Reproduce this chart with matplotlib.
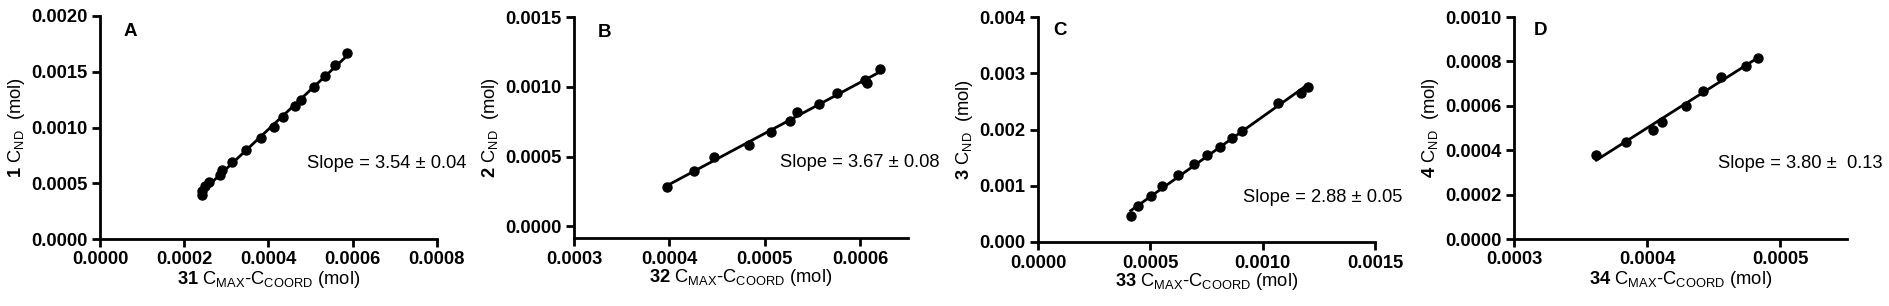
#!/usr/bin/env python3
import numpy as np
import matplotlib
matplotlib.use("Agg")
import matplotlib.pyplot as plt
from matplotlib.ticker import FormatStrFormatter

plt.rcParams["font.family"] = ["Liberation Sans", "DejaVu Sans"]
plt.rcParams["mathtext.fontset"] = "custom"
plt.rcParams["mathtext.rm"] = "Liberation Sans"
plt.rcParams["mathtext.bf"] = "Liberation Sans:bold"

# panel A
xa = [0.0002416, 0.0002416, 0.0002495, 0.0002598, 0.0002851, 0.0002891, 0.0003145,
      0.0003469, 0.0003818, 0.0004135, 0.0004341, 0.0004634, 0.0004768, 0.0005085,
      0.0005347, 0.0005584, 0.0005861]
ya = [0.000397, 0.000427, 0.000472, 0.000507, 0.000576, 0.000615, 0.000687,
      0.000794, 0.000904, 0.001003, 0.001093, 0.001194, 0.001248, 0.001361,
      0.001463, 0.001561, 0.001666]

# panel B
xb = [0.0003970, 0.0004257, 0.0004467, 0.0004838, 0.0005062, 0.0005265, 0.0005342,
      0.0005569, 0.0005755, 0.0006052, 0.0006070, 0.0006210]
yb = [0.000279, 0.000400, 0.000495, 0.000583, 0.000676, 0.000757, 0.000821,
      0.000876, 0.000957, 0.001048, 0.001024, 0.001124]

# panel C
xc = [0.0004126, 0.0004453, 0.0005019, 0.0005540, 0.0006240, 0.0006926, 0.0007521,
      0.0008087, 0.0008624, 0.0009070, 0.0010679, 0.0011722, 0.0012019]
yc = [0.000455, 0.000632, 0.000821, 0.000987, 0.001194, 0.001388, 0.001548,
      0.001696, 0.001843, 0.001979, 0.002476, 0.002653, 0.002759]

# panel D
xd = [0.0003618, 0.0003838, 0.0004040, 0.0004108, 0.0004288, 0.0004418, 0.0004553,
      0.0004740, 0.0004833]
yd = [0.000377, 0.000436, 0.000493, 0.000528, 0.000600, 0.000668, 0.000731,
      0.000780, 0.000817]

letters = ["A", "B", "C", "D"]
xlabels = [r"$\bf{31}$ C$_{\rm MAX}$-C$_{\rm COORD}$ (mol)",
           r"$\bf{32}$ C$_{\rm MAX}$-C$_{\rm COORD}$ (mol)",
           r"$\bf{33}$ C$_{\rm MAX}$-C$_{\rm COORD}$ (mol)",
           r"$\bf{34}$ C$_{\rm MAX}$-C$_{\rm COORD}$ (mol)"]
ylabels = [r"$\bf{1}$ C$_{\rm ND}$  (mol)",
           r"$\bf{2}$ C$_{\rm ND}$  (mol)",
           r"$\bf{3}$ C$_{\rm ND}$  (mol)",
           r"$\bf{4}$ C$_{\rm ND}$  (mol)"]
slopes = ["Slope = 3.54 \u00b1 0.04", "Slope = 3.67 \u00b1 0.08",
          "Slope = 2.88 \u00b1 0.05", "Slope = 3.80 \u00b1  0.13"]


def main():
    fig = plt.figure(figsize=(18.9, 3.06), dpi=100)
    W, H = 1890.0, 306.0
    # left, right, top, bottom in pixels
    boxes = [(100, 437, 16, 239), (574, 908, 17, 238),
             (1038, 1375, 17, 242), (1514, 1847, 17, 239)]
    xlims = [(0, 0.0008), (0.0003, 0.00065), (0, 0.0015), (0.0003, 0.00055)]
    ylims = [(0, 0.002), (-0.0000833, 0.0015), (0, 0.004), (0, 0.001)]
    xticks = [np.arange(0, 0.00081, 0.0002), np.arange(0.0003, 0.00061, 0.0001),
              np.arange(0, 0.00151, 0.0005), np.arange(0.0003, 0.00051, 0.0001)]
    yticks = [np.arange(0, 0.00201, 0.0005), np.arange(0, 0.00151, 0.0005),
              np.arange(0, 0.00401, 0.001), np.arange(0, 0.00101, 0.0002)]
    yfmt = ["%.4f", "%.4f", "%.3f", "%.4f"]
    slope_pos = [(0.614, 0.34), (0.617, 0.34), (0.609, 0.20), (0.613, 0.34)]
    letter_pos = [(0.07, 0.93), (0.07, 0.93), (0.045, 0.94), (0.06, 0.94)]

    data = [(xa, ya), (xb, yb), (xc, yc), (xd, yd)]
    for i, (x, y) in enumerate(data):
        l, r, t, b = boxes[i]
        ax = fig.add_axes([l / W, 1 - b / H, (r - l) / W, (b - t) / H])
        x = np.array(x)
        y = np.array(y)
        ax.plot(x, y, "o", color="black", markersize=6.5, zorder=3)
        k, c = np.polyfit(x, y, 1)
        xf = np.array([x.min(), x.max()])
        ax.plot(xf, k * xf + c, "-", color="black", lw=2.0)

        ax.set_xlim(*xlims[i])
        ax.set_ylim(*ylims[i])
        ax.set_xticks(xticks[i])
        ax.set_yticks(yticks[i])
        ax.xaxis.set_major_formatter(FormatStrFormatter("%.4f"))
        ax.yaxis.set_major_formatter(FormatStrFormatter(yfmt[i]))
        for s in ["top", "right"]:
            ax.spines[s].set_visible(False)
        for s in ["left", "bottom"]:
            ax.spines[s].set_linewidth(2.0)
        ax.tick_params(width=2.0, length=6, labelsize=13.2, pad=3)
        for lab in ax.get_xticklabels() + ax.get_yticklabels():
            lab.set_fontweight("bold")

        ax.set_xlabel(xlabels[i], fontsize=13.2, labelpad=0)
        ax.set_ylabel(ylabels[i], fontsize=13.2, labelpad=3)
        ax.text(slope_pos[i][0], slope_pos[i][1], slopes[i], transform=ax.transAxes,
                fontsize=13.2, va="center", ha="left", clip_on=False)
        ax.text(letter_pos[i][0], letter_pos[i][1], letters[i], transform=ax.transAxes,
                fontsize=13.5, fontweight="bold", va="center", ha="left")

    plt.savefig("out.png", dpi=100)


if __name__ == "__main__":
    main()
